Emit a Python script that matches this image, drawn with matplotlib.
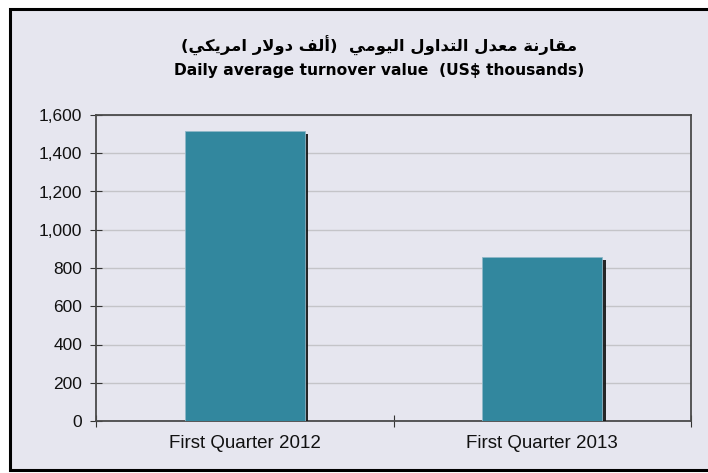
import matplotlib
matplotlib.use("Agg")
import matplotlib.pyplot as plt
import matplotlib.patches as mpatches
import matplotlib.patheffects as pe
from matplotlib.ticker import FuncFormatter, FixedLocator

# ---- data ----
categories = ["First Quarter 2012", "First Quarter 2013"]
values = [1518, 858]
y_ticks = [0, 200, 400, 600, 800, 1000, 1200, 1400, 1600]
title_ar = "مقارنة معدل التداول اليومي  (ألف دولار امريكي)"
title_en = "Daily average turnover value  (US$ thousands)"

# ---- minimal Arabic shaping (presentation forms + visual order) ----
FORMS = {
    'ا': ('\uFE8D', '\uFE8E', None, None),
    'أ': ('\uFE83', '\uFE84', None, None),
    'ة': ('\uFE93', '\uFE94', None, None),
    'د': ('\uFEA9', '\uFEAA', None, None),
    'ر': ('\uFEAD', '\uFEAE', None, None),
    'و': ('\uFEED', '\uFEEE', None, None),
    'ت': ('\uFE95', '\uFE96', '\uFE97', '\uFE98'),
    'ع': ('\uFEC9', '\uFECA', '\uFECB', '\uFECC'),
    'ف': ('\uFED1', '\uFED2', '\uFED3', '\uFED4'),
    'ق': ('\uFED5', '\uFED6', '\uFED7', '\uFED8'),
    'ك': ('\uFED9', '\uFEDA', '\uFEDB', '\uFEDC'),
    'ل': ('\uFEDD', '\uFEDE', '\uFEDF', '\uFEE0'),
    'م': ('\uFEE1', '\uFEE2', '\uFEE3', '\uFEE4'),
    'ن': ('\uFEE5', '\uFEE6', '\uFEE7', '\uFEE8'),
    'ي': ('\uFEF1', '\uFEF2', '\uFEF3', '\uFEF4'),
}
LIG = {'لا': ('\uFEFB', '\uFEFC'), 'لأ': ('\uFEF7', '\uFEF8')}


def shape_arabic(s):
    toks = []
    i = 0
    while i < len(s):
        pair = s[i:i + 2]
        if pair in LIG:
            toks.append(('lig', pair))
            i += 2
        else:
            toks.append(('ch', s[i]))
            i += 1

    def is_ar(t):
        return t[0] == 'lig' or t[1] in FORMS

    def is_dual(t):
        return t[0] == 'ch' and t[1] in FORMS and FORMS[t[1]][2] is not None

    out = []
    for k, t in enumerate(toks):
        if not is_ar(t):
            out.append(t[1])
            continue
        prev_ok = k > 0 and is_ar(toks[k - 1]) and is_dual(toks[k - 1])
        next_ok = is_dual(t) and k + 1 < len(toks) and is_ar(toks[k + 1])
        if t[0] == 'lig':
            out.append(LIG[t[1]][1] if prev_ok else LIG[t[1]][0])
            continue
        f = FORMS[t[1]]
        if prev_ok and next_ok:
            out.append(f[3])
        elif prev_ok:
            out.append(f[1])
        elif next_ok:
            out.append(f[2])
        else:
            out.append(f[0])
    vis = ''.join(reversed(out))
    vis = vis.translate(str.maketrans({'(': ')', ')': '('}))
    return vis


BG = '#E6E6EF'
BAR = '#32879E'

fig = plt.figure(figsize=(7.08, 4.73), dpi=100, facecolor='white')

# outer chart-area frame
frame = mpatches.Rectangle((9.5 / 708, 1 - 470 / 473), 1.05, (470 - 9.5) / 473,
                           transform=fig.transFigure, facecolor=BG,
                           edgecolor='black', linewidth=2.2, zorder=-5)
fig.patches.append(frame)

ax = fig.add_axes([96 / 708, 1 - 421 / 473, (691 - 96) / 708, (421 - 115) / 473])
ax.set_zorder(2)
ax.set_facecolor(BG)

x = list(range(len(categories)))
bars = ax.bar(x, values, width=0.405, color=BAR, edgecolor='#8FB8C8',
              linewidth=0.6, zorder=3)
for b in bars:
    b.set_path_effects([pe.SimplePatchShadow(offset=(2.2, -2.2),
                                             shadow_rgbFace='#111111', alpha=0.9),
                        pe.Normal()])

ax.set_xlim(-0.5, len(categories) - 0.5)
ax.set_ylim(0, 1600)
ax.set_yticks(y_ticks)
ax.yaxis.set_major_formatter(FuncFormatter(lambda v, p: f"{int(v):,}"))
ax.grid(axis='y', color='#C4C4C8', linewidth=1.0, zorder=1)
ax.set_axisbelow(True)

ax.xaxis.set_major_locator(FixedLocator([-0.5 + i for i in range(len(categories) + 1)]))
ax.xaxis.set_major_formatter(FuncFormatter(lambda v, p: ''))
ax.set_xticks(x, categories, minor=True)
ax.tick_params(axis='x', which='minor', length=0, pad=10)
ax.tick_params(axis='x', which='major', direction='inout', length=8, width=0.8, color='#333333')
ax.tick_params(axis='y', direction='inout', length=8, width=0.8, color='#333333', pad=6)

for lab in ax.get_xticklabels(minor=True):
    lab.set_family('Liberation Sans')
    lab.set_fontsize(13.5)
    lab.set_color('#111111')
for lab in ax.get_yticklabels():
    lab.set_family('Liberation Sans')
    lab.set_fontsize(12.5)
    lab.set_color('#111111')

for s in ax.spines.values():
    s.set_color('#4A4A4A')
    s.set_linewidth(1.3)

fig.text(379 / 708, 1 - 46 / 473, shape_arabic(title_ar), ha='center', va='center',
         fontsize=11.8, fontweight='bold', family=['DejaVu Sans'], color='black', zorder=5)
fig.text(379 / 708, 1 - 71 / 473, title_en, ha='center', va='center',
         fontsize=11.2, fontweight='bold', family=['DejaVu Sans'], color='black', zorder=5)

fig.savefig('out.png', dpi=100, facecolor='white')
